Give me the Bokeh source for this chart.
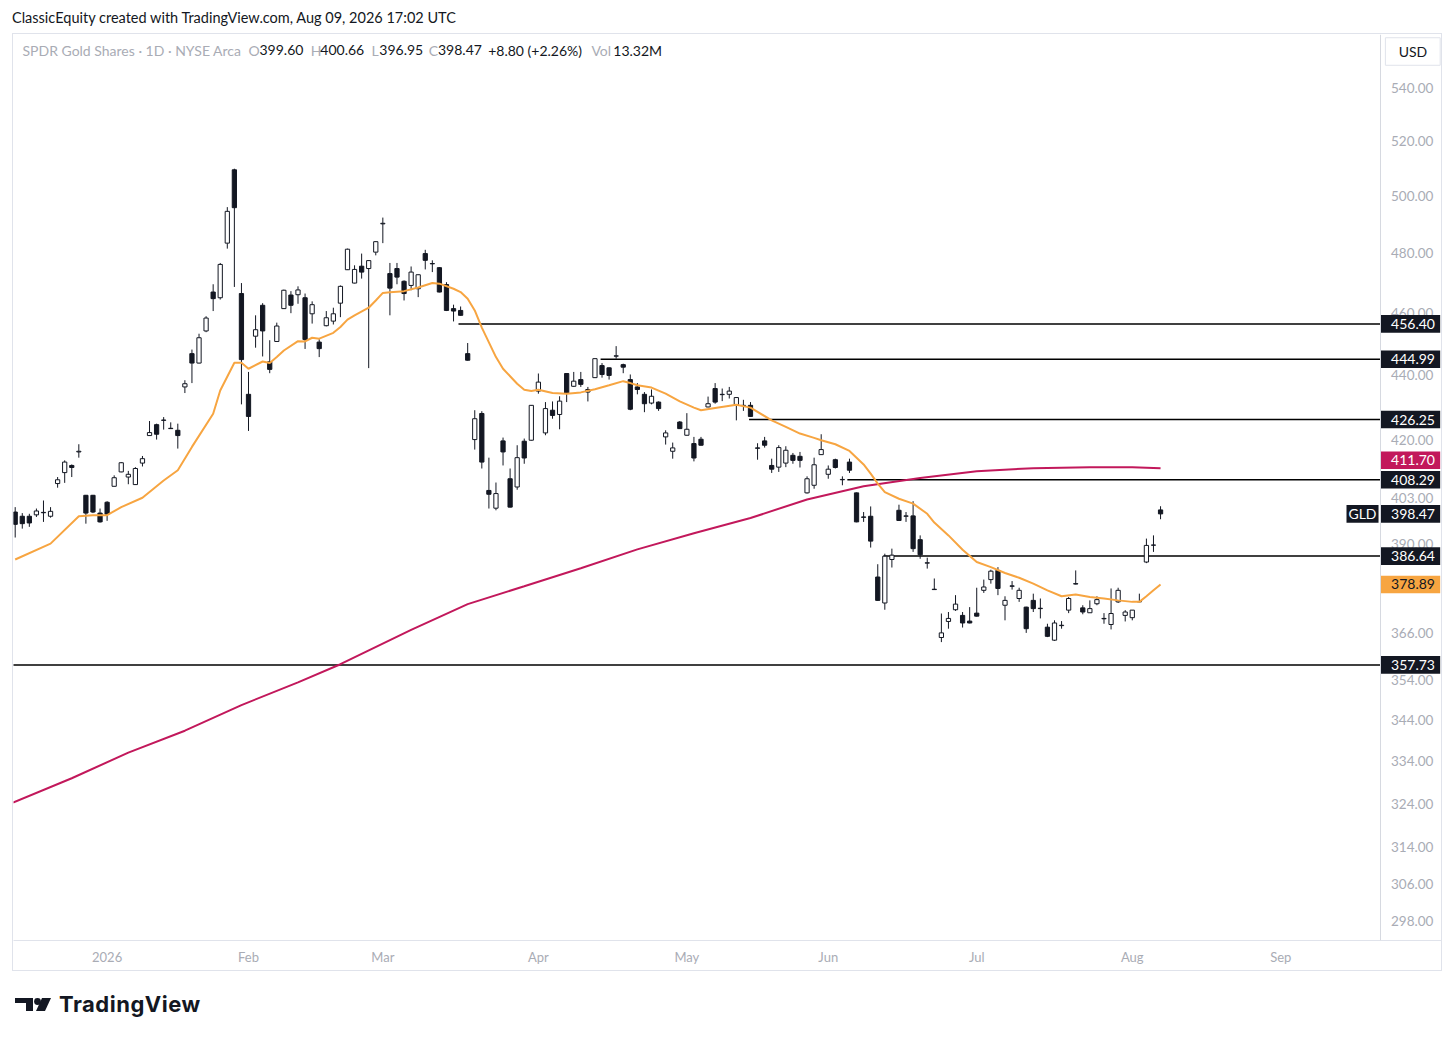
import math
from bokeh.plotting import figure
from bokeh.models import Range1d, FixedTicker, Label, Div, Span
from bokeh.layouts import column
from bokeh.embed import file_html
from bokeh.resources import INLINE
from bokeh.core.properties import value

# ---------------- data (daily OHLC, bar index 0 = mid-Dec 2025) ----------------
opens = [399.0, 397.8, 397.8, 398.2, 398.9, 397.8, 407.2, 410.4, 412.5, 416.5,
         403.8, 403.8, 398.7, 401.8, 406.4, 410.6, 409.1, 406.9, 413.2, 421.4,
         424.7, 426.0, 423.6, 423.0, 436.3, 446.8, 443.8, 454.1, 466.9, 465.0,
         483.5, 509.5, 466.4, 434.0, 452.4, 462.5, 444.2, 450.7, 461.4, 465.9,
         466.0, 465.0, 459.7, 450.5, 455.8, 457.3, 463.2, 474.4, 469.9, 475.6,
         474.8, 480.4, 490.2, 473.1, 474.8, 470.5, 469.1, 468.0, 479.9, 476.5,
         475.1, 469.4, 461.4, 460.8, 446.8, 420.2, 428.1, 405.2, 400.1, 419.8,
         408.6, 406.2, 419.7, 420.0, 435.0, 422.2, 429.1, 427.8, 440.5, 436.5,
         438.6, 434.7, 439.2, 443.0, 442.3, 446.0, 443.3, 438.6, 436.3, 434.0,
         431.3, 431.6, 421.0, 416.7, 425.5, 421.5, 419.0, 420.3, 430.1, 435.8,
         433.9, 434.0, 430.8, 430.5, 430.6, 417.7, 419.8, 412.5, 412.0, 413.2,
         415.5, 415.2, 404.5, 406.7, 415.7, 409.9, 414.2, 408.3, 413.5, 404.5,
         397.6, 397.8, 380.9, 373.9, 385.7, 399.5, 397.8, 397.9, 391.2, 384.7,
         377.6, 364.8, 369.0, 372.1, 370.6, 369.1, 371.2, 377.3, 380.2, 382.7,
         373.3, 378.5, 375.1, 372.8, 374.6, 372.4, 367.5, 364.1, 367.9, 372.0,
         379.1, 372.6, 371.3, 373.7, 369.8, 368.2, 374.2, 370.6, 370.0, 374.3,
         385.0, 389.7, 399.60]
highs = [400.4, 398.7, 398.5, 400.0, 402.3, 400.4, 409.1, 414.0, 412.8, 418.8,
         403.9, 403.9, 400.0, 402.1, 409.6, 413.5, 410.9, 412.0, 415.3, 425.8,
         425.0, 427.0, 425.4, 425.0, 438.4, 448.1, 453.2, 458.9, 469.5, 476.7,
         496.1, 509.9, 469.9, 441.0, 459.2, 463.2, 451.1, 456.8, 467.7, 467.2,
         468.8, 466.4, 463.8, 451.4, 460.6, 461.7, 469.1, 481.6, 475.9, 479.9,
         477.6, 484.1, 492.4, 476.7, 476.7, 470.8, 475.5, 472.8, 481.2, 477.6,
         475.3, 470.2, 462.7, 462.1, 450.2, 429.1, 428.8, 414.8, 407.5, 420.8,
         411.6, 418.5, 420.5, 430.7, 440.5, 431.6, 431.8, 433.4, 440.6, 441.0,
         441.0, 436.3, 445.3, 443.8, 442.4, 449.2, 443.6, 440.2, 437.5, 434.7,
         435.5, 431.8, 423.0, 419.3, 425.8, 428.2, 421.0, 421.0, 433.3, 437.5,
         435.8, 436.3, 433.1, 432.3, 431.6, 419.1, 421.0, 414.5, 418.5, 418.2,
         416.2, 416.5, 409.3, 414.8, 421.8, 412.5, 414.5, 409.3, 414.5, 404.6,
         399.0, 400.6, 384.4, 387.3, 388.7, 401.1, 399.0, 402.1, 392.4, 386.2,
         380.5, 371.1, 371.5, 376.0, 371.5, 372.8, 378.0, 380.2, 382.9, 383.6,
         375.7, 379.8, 378.0, 372.9, 376.4, 375.1, 368.4, 369.3, 369.1, 375.5,
         382.7, 373.3, 374.6, 375.7, 371.2, 377.8, 378.0, 372.0, 372.0, 376.4,
         391.5, 392.4, 400.66]
lows = [391.8, 394.3, 394.8, 397.6, 396.2, 397.4, 406.0, 407.4, 409.1, 414.8,
        395.7, 398.7, 396.0, 396.5, 406.4, 410.5, 407.0, 406.8, 412.2, 421.3,
        420.2, 423.2, 423.4, 417.5, 434.4, 437.5, 443.7, 453.7, 460.6, 464.4,
        481.6, 468.6, 430.9, 422.8, 448.7, 445.9, 440.6, 450.6, 461.3, 459.9,
        463.0, 448.3, 456.5, 445.7, 455.6, 456.2, 458.6, 474.3, 469.8, 471.4,
        442.2, 479.3, 483.5, 459.2, 469.5, 464.1, 467.5, 465.2, 474.5, 473.6,
        466.8, 460.6, 457.2, 459.1, 444.6, 417.2, 411.6, 400.0, 399.5, 412.5,
        400.3, 405.4, 413.0, 419.9, 434.2, 421.5, 426.5, 423.3, 431.6, 436.3,
        436.3, 431.8, 439.1, 439.2, 438.6, 445.2, 440.6, 429.1, 434.0, 428.5,
        430.9, 428.9, 418.7, 414.5, 423.4, 421.4, 413.7, 418.4, 430.0, 431.1,
        431.9, 432.7, 426.0, 428.9, 427.1, 414.2, 417.8, 410.3, 410.6, 412.0,
        413.0, 411.9, 404.3, 405.7, 415.6, 408.6, 411.6, 406.7, 410.3, 396.1,
        396.2, 389.0, 374.5, 372.1, 383.5, 396.5, 396.2, 387.8, 385.9, 383.2,
        377.4, 363.6, 367.1, 371.8, 367.4, 368.5, 370.3, 376.6, 379.1, 376.0,
        369.3, 377.5, 374.2, 366.0, 371.5, 369.8, 364.9, 363.9, 367.1, 371.2,
        378.9, 370.9, 371.3, 373.3, 368.4, 366.9, 373.9, 369.0, 369.3, 374.1,
        384.7, 387.8, 396.95]
closes = [395.5, 395.7, 395.9, 399.3, 398.8, 399.2, 408.3, 413.5, 411.9, 416.7,
          398.7, 399.0, 396.2, 398.4, 408.9, 413.3, 409.9, 411.6, 414.5, 422.3,
          421.8, 426.1, 423.5, 421.4, 437.3, 443.8, 451.9, 458.3, 464.7, 476.2,
          494.6, 495.9, 444.9, 427.2, 454.5, 454.1, 441.8, 455.7, 467.5, 462.5,
          467.6, 451.3, 462.7, 448.4, 458.4, 459.7, 468.8, 481.4, 474.5, 473.6,
          477.5, 484.0, 490.4, 468.2, 471.9, 466.4, 473.6, 472.7, 477.6, 476.4,
          466.9, 460.8, 460.6, 459.2, 444.7, 426.5, 413.5, 404.1, 404.3, 416.5,
          400.4, 414.8, 414.7, 430.6, 437.8, 429.6, 427.5, 431.9, 434.4, 438.1,
          437.1, 435.5, 445.2, 440.2, 439.9, 446.1, 442.5, 429.4, 435.5, 431.1,
          433.4, 429.6, 422.2, 417.7, 423.5, 423.3, 414.7, 418.5, 431.1, 431.6,
          434.0, 435.0, 433.0, 430.6, 427.2, 417.6, 418.5, 411.4, 417.8, 417.0,
          414.0, 414.0, 408.6, 412.7, 417.2, 411.4, 411.9, 408.4, 411.1, 396.2,
          397.5, 390.8, 374.6, 386.6, 386.9, 396.6, 397.9, 388.7, 387.0, 384.8,
          377.5, 366.0, 369.8, 373.6, 368.6, 368.6, 370.4, 378.2, 382.5, 377.8,
          374.6, 378.4, 377.3, 367.1, 372.4, 372.5, 365.1, 368.6, 368.0, 375.1,
          379.0, 371.5, 372.4, 374.8, 369.7, 371.1, 377.3, 371.5, 372.0, 374.2,
          389.6, 389.67, 398.47]

# moving averages (bar index, value)
ma_fast_x = [0, 5, 9, 11, 13, 15, 18, 21, 23, 25, 28, 29, 31, 32, 33, 35, 36, 37, 38, 40,
             41, 42, 43, 45, 46, 47, 48, 50, 51, 52, 53, 55, 57, 59, 60, 62, 63, 64, 65, 66,
             68, 69, 71, 72, 73, 74, 76, 78, 80, 82, 84, 86, 87, 88, 90, 92, 94, 96, 97, 99,
             102, 104, 107, 109, 111, 113, 114, 116, 118, 120, 121, 122, 123, 125, 127, 129,
             130, 132, 134, 136, 138, 140, 142, 144, 146, 148, 150, 152, 154, 156, 158, 159,
             160, 161, 162]
ma_fast_y = [385.7, 390.1, 397.8, 398.1, 398.1, 400.4, 403.1, 408.1, 411.1, 418.0, 428.0,
             435.2, 443.9, 443.9, 442.0, 444.3, 443.8, 445.7, 447.8, 450.8, 450.7, 451.9,
             451.6, 453.5, 455.4, 457.8, 459.2, 461.7, 464.1, 466.6, 466.8, 467.2, 468.4,
             469.9, 469.7, 468.0, 466.9, 464.7, 460.8, 455.2, 445.7, 442.0, 437.3, 435.4,
             435.0, 435.4, 434.4, 434.2, 434.6, 435.6, 436.8, 438.1, 437.5, 436.8, 436.1,
             434.2, 431.8, 429.9, 429.1, 429.8, 430.8, 429.9, 426.0, 424.0, 422.0, 420.7,
             420.0, 418.8, 416.8, 412.8, 410.1, 407.2, 404.7, 402.8, 401.4, 398.5, 396.0,
             392.4, 388.4, 385.0, 383.6, 382.0, 380.7, 379.1, 377.3, 375.7, 376.2, 375.5,
             375.1, 374.6, 374.2, 374.2, 375.7, 377.3, 378.89]
ma_slow_x = [-0.3, 8, 16, 24, 32, 40, 46, 56, 64, 72, 80, 88, 96, 104, 112, 120, 128, 136,
             144, 152, 158, 162]
ma_slow_y = [324.2, 329.9, 336.0, 341.3, 347.6, 353.3, 357.9, 366.8, 373.6, 378.4, 383.3,
             388.5, 393.0, 397.3, 402.6, 406.4, 408.8, 410.8, 411.7, 412.0, 412.0, 411.70]

# horizontal levels drawn on the chart
levels = [456.40, 444.99, 426.25, 408.29, 386.64, 357.73]
level_start = [62.7, 82.8, 103.8, 117.7, 122.8, -1.0]

tick_bars = [13, 33, 52, 74, 95, 115, 136, 158, 179]
tick_labels = ["2026", "Feb", "Mar", "Apr", "May", "Jun", "Jul", "Aug", "Sep"]
price_ticks = [298, 306, 314, 324, 334, 344, 354, 366, 390, 403, 420, 440, 460, 480, 500, 520, 540]

# price-scale tags (value shown on the price scale)
tag_values = [456.40, 444.99, 426.25, 411.70, 408.29, 398.47, 386.64, 378.89, 357.73]

# ---------------- styling ----------------
FONT = "Lato"
DARK = "#131722"
ORANGE = "#f7a541"
CRIMSON = "#c2185b"
GRAY = "#a9acb5"
tag_bg = [DARK, DARK, DARK, CRIMSON, DARK, DARK, DARK, ORANGE, DARK]
tag_fg = ["white", "white", "white", "white", "white", "white", "white", DARK, "white"]

X0, X1 = -0.24, 202.02          # bar range spanning plot + price column
SEP = 193.11                    # plot / price-scale separator (bar units)
TAG_L, TAG_R, TXT_X = 193.18, 201.55, 194.6
PX_PER_LN = 1399.6              # vertical pixels per unit of ln(price)
TAG_HALF = math.exp(8.8 / PX_PER_LN)
MIN_GAP = math.exp(19.5 / PX_PER_LN)

# place tags like the price scale does: push a tag up when it would overlap the one below
order = sorted(range(len(tag_values)), key=lambda i: tag_values[i])
tag_pos = list(tag_values)
for a, b in zip(order, order[1:]):
    if tag_pos[b] < tag_pos[a] * MIN_GAP:
        tag_pos[b] = tag_pos[a] * MIN_GAP

bars = list(range(len(opens)))
body_top = [max(o, c) for o, c in zip(opens, closes)]
body_bot = [min(o, c) for o, c in zip(opens, closes)]
body_fill = ["white" if c >= o else DARK for o, c in zip(opens, closes)]

p = figure(width=1430, height=938, x_range=Range1d(X0, X1), y_range=Range1d(293.8, 561.2),
           y_axis_type="log", y_axis_location=None, output_backend="svg",
           toolbar_location=None, min_border_left=0, min_border_top=0,
           min_border_right=0, min_border_bottom=32)
p.margin = (0, 0, 0, 12)
p.styles = {"border": "1px solid #e0e3eb"}
p.background_fill_color = "white"
p.border_fill_color = "white"
p.outline_line_color = None
p.grid.visible = False

p.xaxis.ticker = FixedTicker(ticks=tick_bars, minor_ticks=[])
p.xaxis.major_label_overrides = {b: t for b, t in zip(tick_bars, tick_labels)}
p.xaxis.major_tick_line_color = None
p.xaxis.minor_tick_line_color = None
p.xaxis.axis_line_color = "#e0e3eb"
p.xaxis.major_label_text_font = FONT
p.xaxis.major_label_text_font_size = "13px"
p.xaxis.major_label_text_color = GRAY
p.xaxis.major_label_standoff = 2

p.add_layout(Span(location=SEP, dimension="height", line_color="#d6d9e0", line_width=1))

# levels
p.segment(x0=level_start, y0=levels, x1=[SEP] * len(levels), y1=levels,
          line_color="black", line_width=1.5)

# candles
p.segment(x0=bars, y0=lows, x1=bars, y1=highs, line_color=DARK, line_width=1)
p.vbar(x=bars, width=0.6, top=body_top, bottom=body_bot, fill_color=body_fill,
       line_color=DARK, line_width=1)

# moving averages
p.line(ma_slow_x, ma_slow_y, line_color=CRIMSON, line_width=2)
p.line(ma_fast_x, ma_fast_y, line_color=ORANGE, line_width=2)

# price scale labels
p.text(x=[TXT_X] * len(price_ticks), y=price_ticks, text=[f"{t:.2f}" for t in price_ticks],
       text_font=value(FONT), text_font_size=value("13.5px"), text_color=GRAY,
       text_align="left", text_baseline="middle")

# price tags
p.quad(left=TAG_L, right=TAG_R, top=[v * TAG_HALF for v in tag_pos],
       bottom=[v / TAG_HALF for v in tag_pos], fill_color=tag_bg, line_color=None)
p.text(x=[TXT_X] * len(tag_values), y=tag_pos, text=[f"{v:.2f}" for v in tag_values],
       text_font=value(FONT), text_font_size=value("14px"), text_color=tag_fg,
       text_align="left", text_baseline="middle")

# symbol tag next to last price
p.quad(left=188.3, right=192.83, top=398.47 * TAG_HALF, bottom=398.47 / TAG_HALF,
       fill_color=DARK, line_color=None)
p.text(x=[190.56], y=[398.47], text=["GLD"], text_font=value(FONT),
       text_font_size=value("14px"), text_color="white", text_align="center",
       text_baseline="middle")

# currency box
p.quad(left=193.8, right=201.55, top=559.9, bottom=549.0, fill_color="white",
       line_color="#e0e3eb", line_width=1)
p.text(x=[197.7], y=[554.4], text=["USD"], text_font=value(FONT),
       text_font_size=value("14px"), text_color=DARK, text_align="center",
       text_baseline="middle")

# legend line
legend_parts = [(1.03, "SPDR Gold Shares · 1D · NYSE Arca", GRAY),
                (33.0, "O", GRAY), (34.55, "399.60", DARK),
                (41.8, "H", GRAY), (43.15, "400.66", DARK),
                (50.4, "L", GRAY), (51.5, "396.95", DARK),
                (58.5, "C", GRAY), (59.8, "398.47", DARK),
                (66.9, "+8.80 (+2.26%)", DARK),
                (81.5, "Vol", GRAY), (84.6, "13.32M", DARK)]
for xv, txt, col in legend_parts:
    p.add_layout(Label(x=xv, y=554.9, text=txt, text_align="left", text_baseline="middle",
                       text_font=FONT, text_font_size="14px", text_color=col))

header = Div(text='<div style="font-family:Lato;font-size:14.5px;color:#131722;line-height:20px;'
                  'padding-top:8px;padding-left:12px;white-space:nowrap;">ClassicEquity created with '
                  'TradingView.com, Aug 09, 2026 17:02 UTC</div>',
             width=700, height=33, margin=(0, 0, 0, 0))

footer = Div(text='<div style="display:flex;align-items:center;margin-top:18px;margin-left:15px;">'
                  '<svg width="36" height="13" viewBox="0 0 36 13">'
                  '<path d="M0 0H18V13H11V5H0Z" fill="#131722"/>'
                  '<circle cx="22.5" cy="3.5" r="3.4" fill="#131722"/>'
                  '<path d="M27 0H36L30 13H21Z" fill="#131722"/></svg>'
                  '<span style="font-family:Inter;font-weight:700;font-size:22px;color:#131722;'
                  'margin-left:8px;letter-spacing:0.5px;">TradingView</span></div>',
             width=400, height=60, margin=(0, 0, 0, 0))

layout = column(header, p, footer, spacing=0)
open("out.html", "w").write(file_html(layout, INLINE))
